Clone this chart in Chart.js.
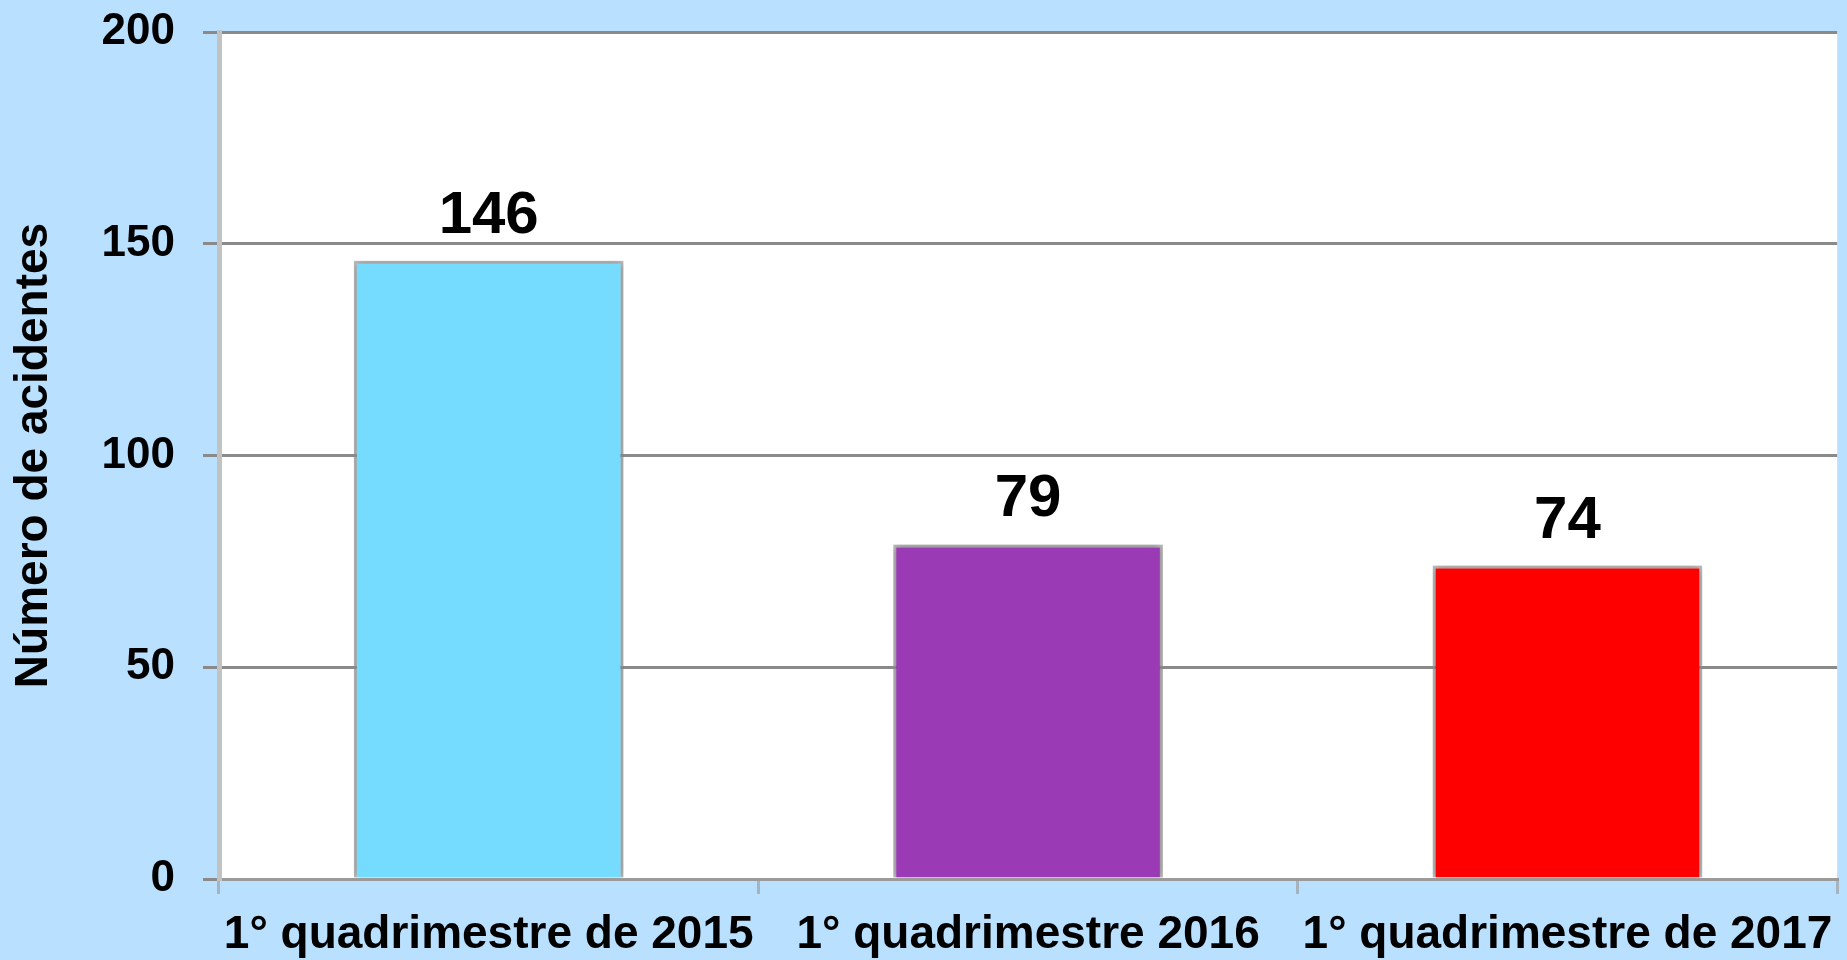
<!DOCTYPE html>
<html>
<head>
<meta charset="utf-8">
<script src="https://cdn.jsdelivr.net/npm/chart.js@4"></script>
<style>
  html, body { margin: 0; padding: 0; background: #B9E0FE; }
  #wrap { width: 1847px; height: 960px; position: relative; }
</style>
</head>
<body>
<div id="wrap"><canvas id="c"></canvas></div>
<script>
const categories = ["1° quadrimestre de 2015", "1° quadrimestre 2016", "1° quadrimestre de 2017"];
const acidentes = [146, 79, 74];
const barColors = ["#75DBFF", "#9B3AB5", "#FF0000"];
const yTicks = [0, 50, 100, 150, 200];
const yTitle = "Número de acidentes";

const FONT = "'Liberation Sans', Arial, sans-serif";

const plotBg = {
  id: 'plotBg',
  beforeDraw(chart) {
    const { ctx, chartArea: a } = chart;
    ctx.save();
    ctx.fillStyle = '#FFFFFF';
    ctx.fillRect(a.left, a.top, a.right - a.left, a.bottom - a.top);
    ctx.restore();
  }
};

const barShadow = {
  id: 'barShadow',
  beforeDatasetDraw(chart) {
    const ctx = chart.ctx;
    ctx.save();
    ctx.shadowColor = 'rgba(0,0,0,0.35)';
    ctx.shadowBlur = 8;
    ctx.shadowOffsetX = 0;
    ctx.shadowOffsetY = 0;
  },
  afterDatasetDraw(chart) {
    chart.ctx.restore();
  }
};

const valueLabels = {
  id: 'valueLabels',
  afterDatasetsDraw(chart) {
    const ctx = chart.ctx;
    const meta = chart.getDatasetMeta(0);
    const data = chart.data.datasets[0].data;
    ctx.save();
    ctx.fillStyle = '#000';
    ctx.font = "bold 60px " + FONT;
    ctx.textAlign = 'center';
    ctx.textBaseline = 'alphabetic';
    meta.data.forEach((el, i) => {
      ctx.fillText(String(data[i]), el.x, el.y - 28);
    });
    ctx.restore();
  }
};

new Chart(document.getElementById('c'), {
  type: 'bar',
  data: {
    labels: categories,
    datasets: [{
      data: acidentes,
      backgroundColor: barColors,
      borderColor: 'rgba(170,170,170,0.7)',
      borderWidth: 3,
      barPercentage: 1.0,
      categoryPercentage: 0.5
    }]
  },
  options: {
    responsive: true,
    maintainAspectRatio: false,
    animation: false,
    devicePixelRatio: 1,
    layout: { padding: { top: 32, right: 4, left: 0, bottom: 0 } },
    plugins: {
      legend: { display: false },
      tooltip: { enabled: false }
    },
    scales: {
      x: {
        afterFit(scale) { scale.height = 81; scale.paddingTop = 0; scale.paddingBottom = 0; },
        grid: {
          display: true,
          drawOnChartArea: false,
          offset: true,
          tickLength: 15,
          color: '#A6B4C0',
          lineWidth: 3
        },
        border: { display: true, color: '#9A9A9A', width: 3 },
        ticks: {
          color: '#000',
          font: { family: FONT, size: 46, weight: 'bold' },
          padding: 14,
          maxRotation: 0,
          autoSkip: false
        }
      },
      y: {
        min: 0,
        max: 200,
        afterFit(scale) { scale.width = 219; scale.paddingTop = 0; scale.paddingBottom = 0; },
        afterBuildTicks(scale) { scale.ticks = yTicks.map(v => ({ value: v })); },
        grid: {
          color: '#8A8A8A',
          lineWidth: 3,
          tickLength: 16
        },
        border: { display: true, color: '#C2C2C2', width: 5 },
        ticks: {
          color: '#000',
          font: { family: FONT, size: 44, weight: 'bold' },
          padding: 28
        },
        title: {
          display: true,
          text: yTitle,
          color: '#000',
          font: { family: FONT, size: 46, weight: 'bold' },
          padding: { top: 7, bottom: 0 }
        }
      }
    }
  },
  plugins: [plotBg, barShadow, valueLabels]
});
</script>
</body>
</html>
